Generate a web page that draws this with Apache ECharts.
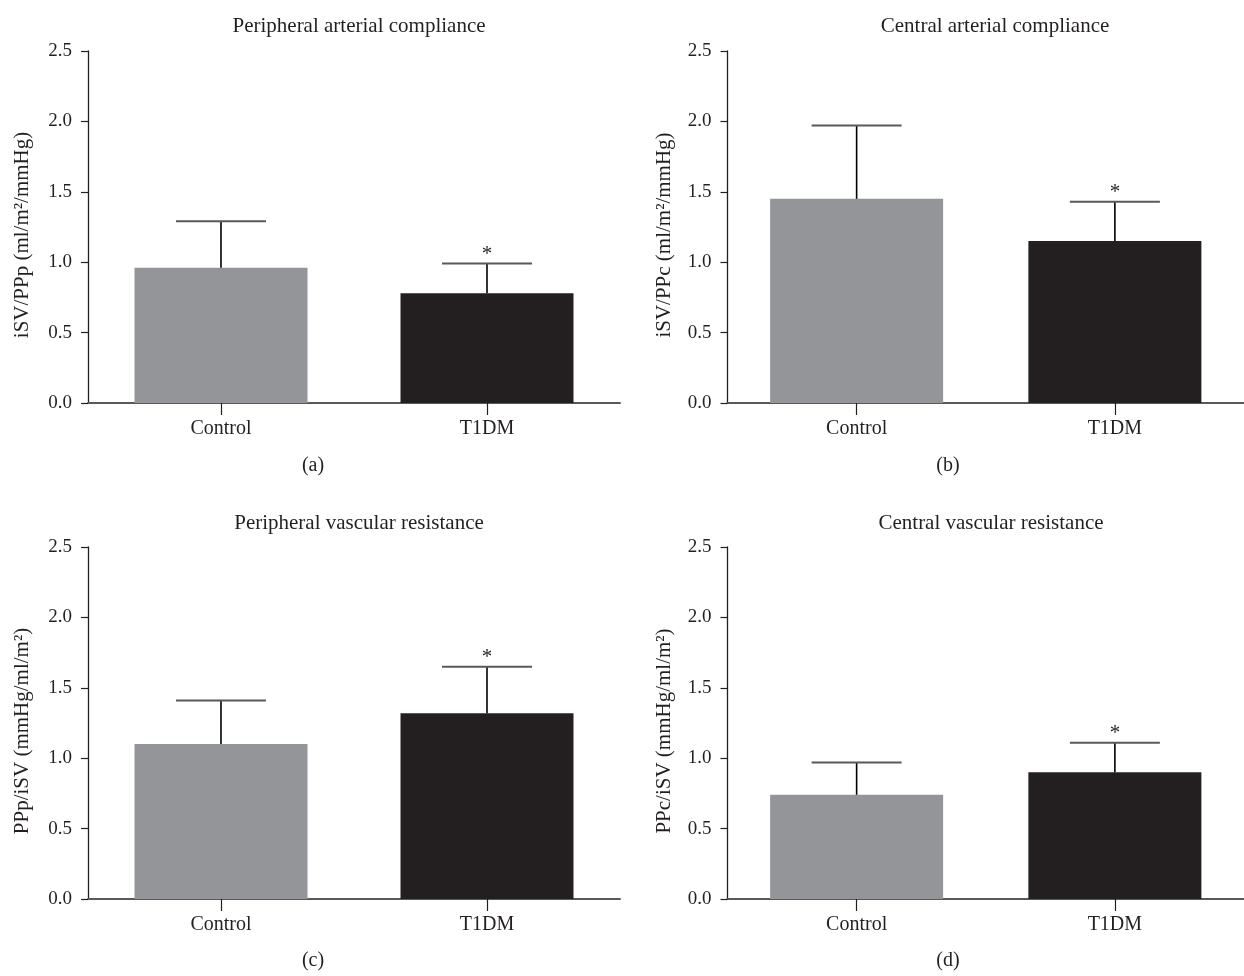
<!DOCTYPE html>
<html>
<head>
<meta charset="utf-8">
<script src="https://cdn.jsdelivr.net/npm/echarts@6/dist/echarts.min.js"></script>
<style>
html,body{margin:0;padding:0;background:#fff;}
#chart{width:1244px;height:976px;}
</style>
</head>
<body>
<div id="chart"></div>
<script>
// ---- data ----
const categories = ['Control', 'T1DM'];
const panelTitles = ['Peripheral arterial compliance', 'Central arterial compliance', 'Peripheral vascular resistance', 'Central vascular resistance'];
const panelLetters = ['(a)', '(b)', '(c)', '(d)'];
const yAxisNames = ['iSV/PPp (ml/m\u00b2/mmHg)', 'iSV/PPc (ml/m\u00b2/mmHg)', 'PPp/iSV (mmHg/ml/m\u00b2)', 'PPc/iSV (mmHg/ml/m\u00b2)'];
const yTicks = [0.0, 0.5, 1.0, 1.5, 2.0, 2.5];
const meanA = [0.96, 0.78];
const sdA = [0.33, 0.21];
const meanB = [1.45, 1.15];
const sdB = [0.52, 0.28];
const meanC = [1.10, 1.32];
const sdC = [0.31, 0.33];
const meanD = [0.74, 0.90];
const sdD = [0.23, 0.21];
const significant = [false, true]; // '*' marks vs Control

const means = [meanA, meanB, meanC, meanD];
const sds = [sdA, sdB, sdC, sdD];

const FONT = 'Liberation Serif';
const barColors = ['#939598', '#231f20'];

// layout
const grids = [
  {left: 88, top: 51, width: 532, height: 352},
  {left: 727.5, top: 51, width: 526, height: 352},
  {left: 88, top: 547, width: 532, height: 352},
  {left: 727.5, top: 547, width: 526, height: 352}
];
const titlePos = [[354, 11], [990, 11], [354, 508], [986, 508]];
const letterPos = [[313, 466], [948, 466], [313, 961], [948, 961]];

const option = {
  animation: false,
  backgroundColor: '#ffffff',
  title: panelTitles.map((t, i) => ({
    text: t,
    left: titlePos[i][0],
    top: titlePos[i][1],
    textAlign: 'center',
    textStyle: {fontFamily: FONT, fontSize: 21, fontWeight: 'normal', color: '#231f20'}
  })),
  graphic: panelLetters.map((t, i) => ({
    type: 'text',
    x: letterPos[i][0],
    y: letterPos[i][1],
    style: {text: t, fontFamily: FONT, fontSize: 20, fill: '#231f20', textAlign: 'center', textVerticalAlign: 'middle'}
  })),
  grid: grids,
  xAxis: grids.map((g, i) => ({
    type: 'category',
    gridIndex: i,
    data: categories,
    axisLine: {lineStyle: {color: '#58595b', width: 2}},
    axisTick: {show: true, alignWithLabel: true, length: 12, lineStyle: {color: '#231f20', width: 1.2}},
    axisLabel: {fontFamily: FONT, fontSize: 20, color: '#231f20', margin: 16},
    splitLine: {show: false}
  })),
  yAxis: grids.map((g, i) => ({
    type: 'value',
    gridIndex: i,
    min: 0,
    max: 2.5,
    interval: 0.5,
    name: yAxisNames[i],
    nameLocation: 'middle',
    nameRotate: 90,
    nameGap: (i % 2 === 0) ? 55 : 53,
    nameTextStyle: {fontFamily: FONT, fontSize: 21, color: '#231f20', padding: [0, 16, 0, 0]},
    axisLine: {show: true, lineStyle: {color: '#231f20', width: 1.3}},
    axisTick: {show: true, length: 7, lineStyle: {color: '#231f20', width: 1.2}},
    axisLabel: {fontFamily: FONT, fontSize: 19, color: '#231f20', margin: 16,
      formatter: v => yTicks.find(t => Math.abs(t - v) < 1e-9).toFixed(1)},
    splitLine: {show: false}
  })),
  series: []
};

means.forEach((m, i) => {
  option.series.push({
    type: 'bar',
    xAxisIndex: i,
    yAxisIndex: i,
    barWidth: 173,
    data: m.map((v, k) => ({value: v, itemStyle: {color: barColors[k]}})),
    z: 2
  });
  option.series.push({
    type: 'custom',
    xAxisIndex: i,
    yAxisIndex: i,
    z: 3,
    data: m.map((v, k) => [k, v, v + sds[i][k], significant[k] ? 1 : 0]),
    renderItem: function (params, api) {
      const x = api.value(0);
      const top = api.coord([x, api.value(1)]);
      const hi = api.coord([x, api.value(2)]);
      const half = 45;
      const children = [
        {type: 'line', shape: {x1: top[0], y1: top[1], x2: hi[0], y2: hi[1]},
          style: {stroke: '#000000', lineWidth: 1.6}},
        {type: 'line', shape: {x1: hi[0] - half, y1: hi[1], x2: hi[0] + half, y2: hi[1]},
          style: {stroke: '#58595b', lineWidth: 2}}
      ];
      if (api.value(3) === 1) {
        children.push({type: 'text', x: hi[0], y: hi[1] - 9,
          style: {text: '*', fontFamily: FONT, fontSize: 21, fill: '#231f20', textAlign: 'center', textVerticalAlign: 'middle'}});
      }
      return {type: 'group', children: children};
    }
  });
});

const chart = echarts.init(document.getElementById('chart'), null, {renderer: 'canvas'});
chart.setOption(option);
</script>
</body>
</html>
